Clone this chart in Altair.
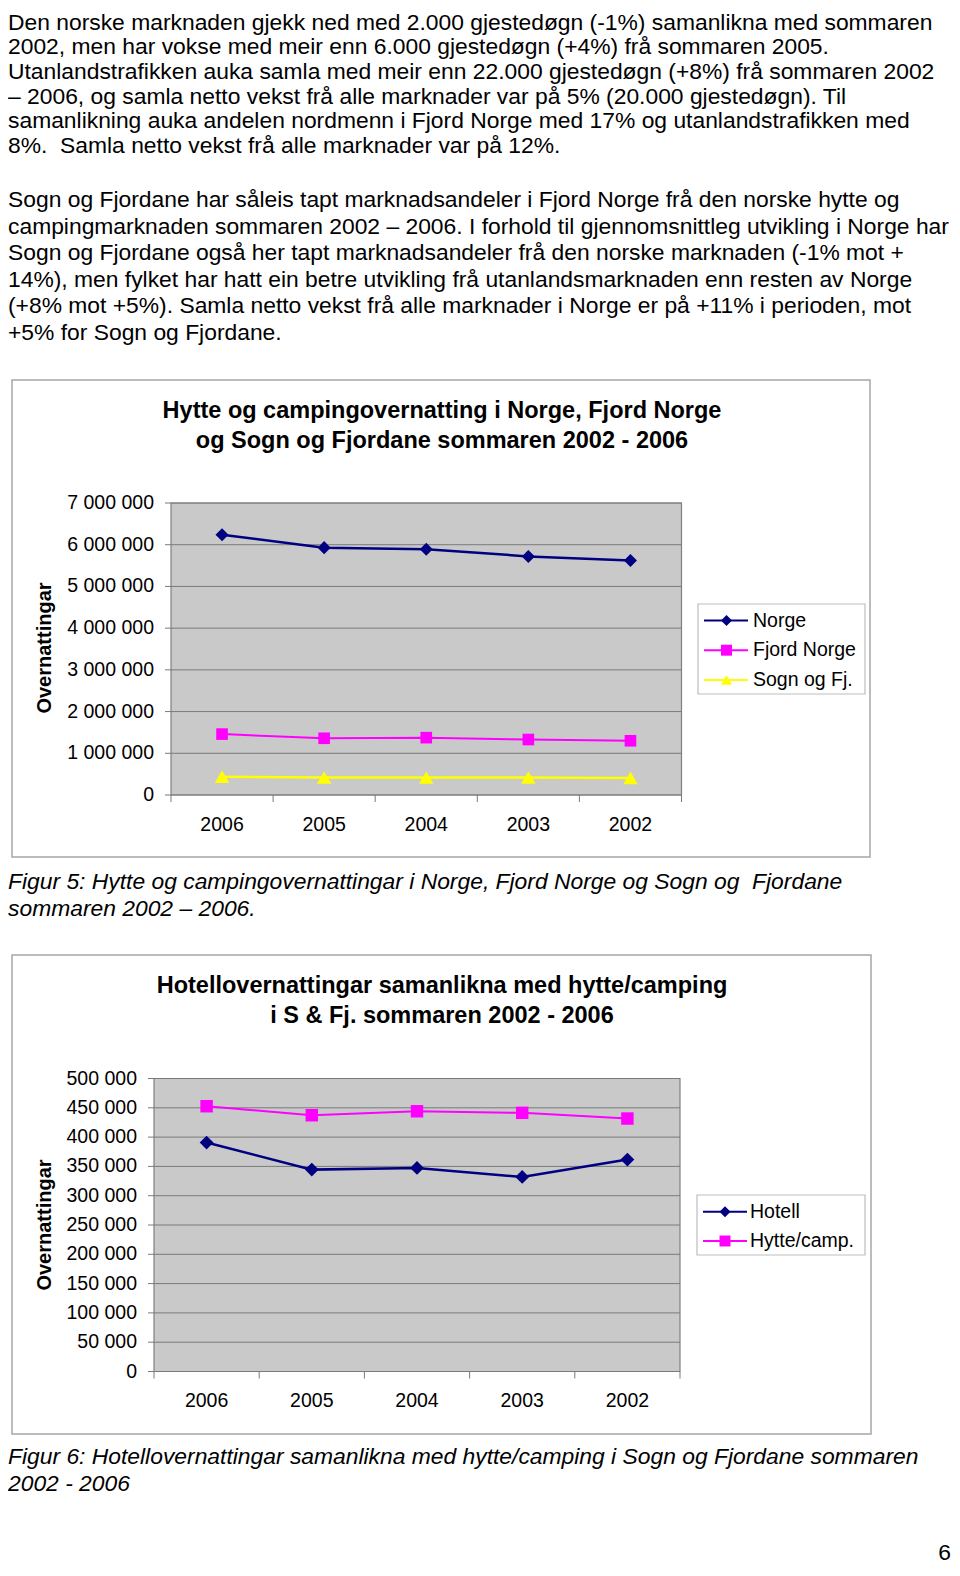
import altair as alt
import pandas as pd

FONT = "Liberation Sans"
W, H = 944, 1560

# ---------------- data ----------------
years = ["2006", "2005", "2004", "2003", "2002"]

series1 = ["Norge", "Fjord Norge", "Sogn og Fj."]
norge = [6240000, 5930000, 5890000, 5720000, 5620000]
fjord_norge = [1460000, 1360000, 1375000, 1330000, 1300000]
sogn_fj = [440000, 420000, 420000, 420000, 410000]

series2 = ["Hotell", "Hytte/camp."]
hotell = [390700, 344500, 347400, 332000, 361600]
hytte_camp = [452700, 437300, 444100, 441400, 431700]

ticks1 = [0, 1000000, 2000000, 3000000, 4000000, 5000000, 6000000, 7000000]
tick_labels1 = ["0", "1 000 000", "2 000 000", "3 000 000", "4 000 000",
                "5 000 000", "6 000 000", "7 000 000"]
ticks2 = [0, 50000, 100000, 150000, 200000, 250000, 300000, 350000, 400000, 450000, 500000]
tick_labels2 = ["0", "50 000", "100 000", "150 000", "200 000", "250 000",
                "300 000", "350 000", "400 000", "450 000", "500 000"]

para1 = [
    "Den norske marknaden gjekk ned med 2.000 gjestedøgn (-1%) samanlikna med sommaren",
    "2002, men har vokse med meir enn 6.000 gjestedøgn (+4%) frå sommaren 2005.",
    "Utanlandstrafikken auka samla med meir enn 22.000 gjestedøgn (+8%) frå sommaren 2002",
    "– 2006, og samla netto vekst frå alle marknader var på 5% (20.000 gjestedøgn). Til",
    "samanlikning auka andelen nordmenn i Fjord Norge med 17% og utanlandstrafikken med",
    "8%.\u00a0 Samla netto vekst frå alle marknader var på 12%.",
]
para2 = [
    "Sogn og Fjordane har såleis tapt marknadsandeler i Fjord Norge frå den norske hytte og",
    "campingmarknaden sommaren 2002 – 2006. I forhold til gjennomsnittleg utvikling i Norge har",
    "Sogn og Fjordane også her tapt marknadsandeler frå den norske marknaden (-1% mot +",
    "14%), men fylket har hatt ein betre utvikling frå utanlandsmarknaden enn resten av Norge",
    "(+8% mot +5%). Samla netto vekst frå alle marknader i Norge er på +11% i perioden, mot",
    "+5% for Sogn og Fjordane.",
]
caption5 = ["Figur 5: Hytte og campingovernattingar i Norge, Fjord Norge og Sogn og\u00a0 Fjordane",
            "sommaren 2002 – 2006."]
caption6 = ["Figur 6: Hotellovernattingar samanlikna med hytte/camping i Sogn og Fjordane sommaren",
            "2002 - 2006"]
title1 = ["Hytte og campingovernatting i Norge, Fjord Norge",
          "og Sogn og Fjordane sommaren 2002 - 2006"]
title2 = ["Hotellovernattingar samanlikna med hytte/camping",
          "i S & Fj. sommaren 2002 - 2006"]
y_title = ["Overnattingar"]
page_no = ["6"]

NAVY, MAGENTA, YELLOW = "#000080", "#ff00ff", "#ffff00"
BODY = 22.85

one = pd.DataFrame({"k": [0]})


def lines_layer(lines, x, y0, step, size, weight="normal", style="normal",
                align="left", angle=0):
    df = pd.DataFrame({"i": list(range(len(lines))), "t": lines})
    return alt.Chart(df).mark_text(
        align=align, baseline="middle", font=FONT, fontSize=size,
        fontWeight=weight, fontStyle=style, color="black", angle=angle
    ).encode(
        x=alt.value(x),
        y=alt.Y("i:Q", scale=alt.Scale(domain=[0, 1], range=[y0, y0 + step],
                                       nice=False, zero=False), axis=None),
        text="t:N",
    )


def box(x0, x1, y0, y1, fill, stroke, sw):
    return alt.Chart(one).mark_rect(fill=fill, stroke=stroke, strokeWidth=sw).encode(
        x=alt.value(x0), x2=alt.value(x1), y=alt.value(y0), y2=alt.value(y1))


def line_block(frame, title, title_y, ytitle_xy, plot, ymax, ticks, tick_labels,
               label_right, tick_x0, xlab_y, series, legend_box, legend_rows):
    px0, px1, py0, py1 = plot
    layers = []
    layers.append(box(*frame, fill="white", stroke="#a6a6a6", sw=1.5))
    layers.append(lines_layer(title, 434, title_y, 30, 23.5, weight="bold", align="center"))
    layers.append(lines_layer(y_title, ytitle_xy[0], ytitle_xy[1], 30, 20,
                              weight="bold", align="center", angle=270))
    layers.append(box(px0, px1, py0, py1, fill="#c9c9c9", stroke="#808080", sw=1.2))

    yenc = lambda f: alt.Y(f, scale=alt.Scale(domain=[0, ymax], range=[py1, py0],
                                              nice=False, zero=False), axis=None)
    xenc = alt.X("year:N", sort=years,
                 scale=alt.Scale(type="point", domain=years, range=[px0, px1], padding=0.5),
                 axis=None)

    tdf = pd.DataFrame({"v": ticks, "lab": tick_labels})
    layers.append(alt.Chart(tdf).mark_rule(color="#7a7a7a", strokeWidth=1).encode(
        y=yenc("v:Q"), x=alt.value(tick_x0), x2=alt.value(px1)))
    layers.append(alt.Chart(tdf).mark_text(align="right", baseline="middle", font=FONT,
                                           fontSize=19.5, color="black").encode(
        y=yenc("v:Q"), x=alt.value(label_right), text="lab:N"))

    bdf = pd.DataFrame({"b": list(range(len(years) + 1))})
    layers.append(alt.Chart(bdf).mark_rule(color="#7a7a7a", strokeWidth=1).encode(
        x=alt.X("b:Q", scale=alt.Scale(domain=[0, len(years)], range=[px0, px1],
                                       nice=False, zero=False), axis=None),
        y=alt.value(py1), y2=alt.value(py1 + 7)))

    ydf = pd.DataFrame({"year": years})
    layers.append(alt.Chart(ydf).mark_text(align="center", baseline="middle", font=FONT,
                                           fontSize=19.5, color="black").encode(
        x=xenc, y=alt.value(xlab_y), text="year:N"))

    for name, vals, color, shape, size, sw in series:
        df = pd.DataFrame({"year": years, "v": vals})
        layers.append(alt.Chart(df).mark_line(color=color, strokeWidth=sw).encode(
            x=xenc, y=yenc("v:Q")))
        layers.append(alt.Chart(df).mark_point(shape=shape, filled=True, color=color,
                                               size=size, opacity=1).encode(
            x=xenc, y=yenc("v:Q")))

    # legend
    layers.append(box(*legend_box, fill="white", stroke="#bdbdbd", sw=1.2))
    names = [s[0] for s in series]
    ldf = pd.DataFrame({"s": names, "i": list(range(len(names)))})
    ly0, lstep, lx0, lx1, lmx, ltx = legend_rows
    yl = alt.Y("i:Q", scale=alt.Scale(domain=[0, 1], range=[ly0, ly0 + lstep],
                                      nice=False, zero=False), axis=None)
    col = alt.Color("s:N", scale=alt.Scale(domain=names, range=[s[2] for s in series]),
                    legend=None)
    shp = alt.Shape("s:N", scale=alt.Scale(domain=names, range=[s[3] for s in series]),
                    legend=None)
    layers.append(alt.Chart(ldf).mark_rule(strokeWidth=2).encode(
        y=yl, x=alt.value(lx0), x2=alt.value(lx1), color=col))
    layers.append(alt.Chart(ldf).mark_point(filled=True, opacity=1, size=120).encode(
        y=yl, x=alt.value(lmx), color=col, shape=shp))
    layers.append(alt.Chart(ldf).mark_text(align="left", baseline="middle", font=FONT,
                                           fontSize=19.5, color="black").encode(
        y=yl, x=alt.value(ltx), text="s:N"))
    return layers


layers = []
layers.append(lines_layer(para1, 0, 14.5, 24.7, BODY))
layers.append(lines_layer(para2, 0, 192, 26.5, BODY))

layers += line_block(
    frame=(4, 862, 372, 849),
    title=title1, title_y=403, ytitle_xy=(37, 640),
    plot=(163, 673.5, 495, 787), ymax=7000000,
    ticks=ticks1, tick_labels=tick_labels1, label_right=146, tick_x0=157,
    xlab_y=817,
    series=[("Norge", norge, NAVY, "diamond", 170, 2.5),
            ("Fjord Norge", fjord_norge, MAGENTA, "square", 135, 2),
            ("Sogn og Fj.", sogn_fj, YELLOW, "triangle-up", 210, 2.5)],
    legend_box=(690, 857, 596, 686),
    legend_rows=(612.5, 29.7, 696, 740, 718.5, 745),
)
layers.append(lines_layer(caption5, 0, 874, 26.5, BODY, style="italic"))

layers += line_block(
    frame=(4, 863, 947, 1426),
    title=title2, title_y=978, ytitle_xy=(37, 1217),
    plot=(146, 672, 1070.5, 1363.5), ymax=500000,
    ticks=ticks2, tick_labels=tick_labels2, label_right=129, tick_x0=140,
    xlab_y=1393,
    series=[("Hotell", hotell, NAVY, "diamond", 190, 2.5),
            ("Hytte/camp.", hytte_camp, MAGENTA, "square", 155, 2)],
    legend_box=(689, 857, 1187, 1247),
    legend_rows=(1203.7, 29.3, 695, 739, 717, 742),
)
layers.append(lines_layer(caption6, 0, 1449, 26.5, BODY, style="italic"))
layers.append(lines_layer(page_no, 943, 1545, 30, BODY, align="right"))

chart = alt.layer(*layers).resolve_scale(
    x="independent", y="independent", color="independent", shape="independent"
).properties(
    width=W, height=H, padding=0, autosize=alt.AutoSizeParams(type="none")
).configure_view(strokeWidth=0)

chart.save("out.html", embed_options={"renderer": "svg", "actions": False})
